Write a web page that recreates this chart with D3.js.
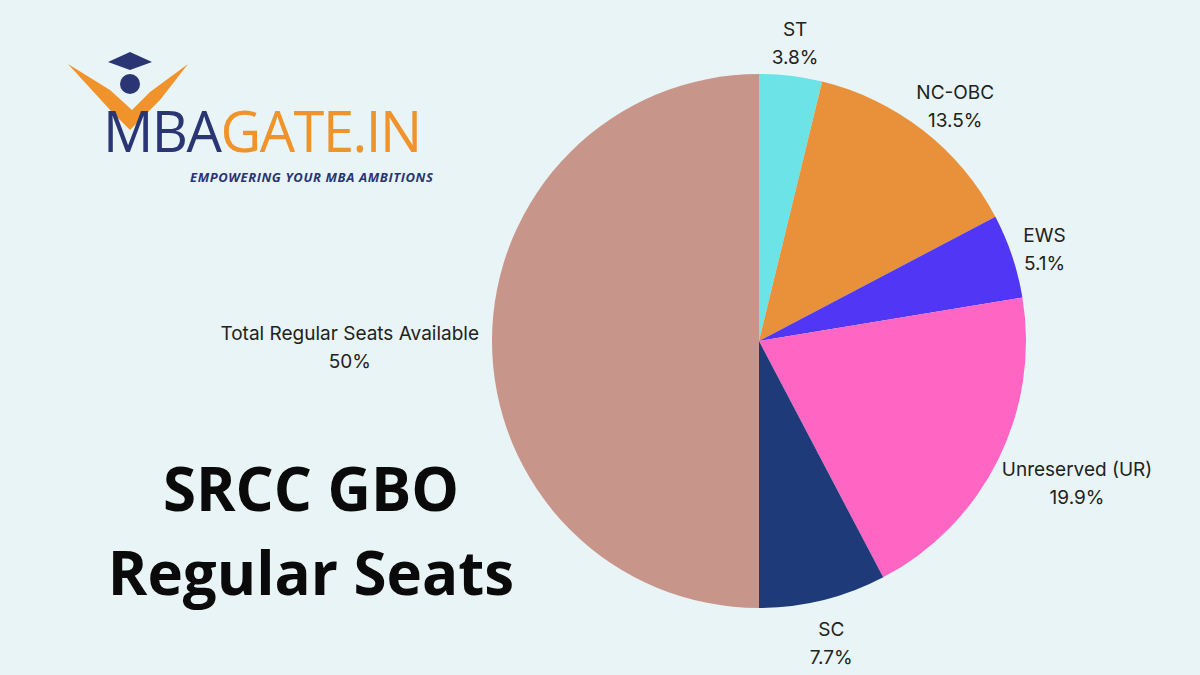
<!DOCTYPE html>
<html><head><meta charset="utf-8">
<script src="https://cdn.jsdelivr.net/npm/d3@7"></script>
<style>body{margin:0;background:#e8f4f5}svg{display:block}</style>
</head><body>
<svg id="c" width="1200" height="675"></svg>
<script>
const categories=["ST","NC-OBC","EWS","Unreserved (UR)","SC","Total Regular Seats Available"];
const values=[3.8,13.5,5.1,19.9,7.7,50];
const labels=["3.8%","13.5%","5.1%","19.9%","7.7%","50%"];
const colors=["#6ce3e6","#e8913a","#5236f5","#ff66c4","#1e3a78","#c8958b"];
const svg=d3.select("#c");
svg.append("rect").attr("width",1200).attr("height",675).attr("fill","#e8f4f5");
const cx=759,cy=341,R=267;
const g=svg.append("g").attr("transform",`translate(${cx},${cy})`);
const pie=d3.pie().sort(null).value(d=>d)(values);
const arc=d3.arc().innerRadius(0).outerRadius(R);
g.selectAll("path").data(pie).join("path").attr("d",arc).attr("fill",(d,i)=>colors[i]);
pie.forEach((d,i)=>{
  const a=(d.startAngle+d.endAngle)/2, s=Math.sin(a), c=-Math.cos(a);
  const t=g.append("text").attr("text-anchor","middle")
    .attr("font-family","Inter, sans-serif").attr("font-size",19).attr("fill","#222");
  t.append("tspan").attr("x",0).attr("y",0).text(categories[i]);
  t.append("tspan").attr("x",0).attr("dy",28).text(labels[i]);
  const bb=t.node().getBBox();
  const r=280;
  const x=r*s+s*bb.width/2, y=r*c+c*bb.height/2+8*Math.abs(s)*0+6;
  t.attr("transform",`translate(${x},${y-bb.y-bb.height/2})`);
});
const tt=svg.append("text").attr("text-anchor","middle").attr("font-family","Open Sans, sans-serif").attr("font-weight",700).attr("font-size",60).attr("fill","#0a0a0a");
tt.append("tspan").attr("x",311).attr("y",511).text("SRCC GBO");
tt.append("tspan").attr("x",311).attr("y",595).text("Regular Seats");
const lg=svg.append("g");
lg.append("path").attr("d","M68,64 L110,90 L132,110 L150,92 L188,64 L160,100 L130,130 L112,112 Z").attr("fill","#f0932b");
lg.append("circle").attr("cx",130).attr("cy",84).attr("r",10).attr("fill","#2a3573");
lg.append("path").attr("d","M108,62 L130,52 L152,62 L130,70 Z").attr("fill","#2a3573");
const lt=lg.append("text").attr("x",103).attr("y",152).attr("font-family","Open Sans, sans-serif").attr("font-size",56).attr("letter-spacing",-1.5);
lt.append("tspan").attr("fill","#2a3573").text("MBA");
lt.append("tspan").attr("fill","#f0932b").text("GATE.IN");
lg.append("text").attr("x",190).attr("y",182).attr("font-family","Open Sans, sans-serif").attr("font-weight",700).attr("font-style","italic").attr("font-size",13).attr("letter-spacing",0.6).attr("fill","#2a3573").text("EMPOWERING YOUR MBA AMBITIONS");
</script></body></html>
